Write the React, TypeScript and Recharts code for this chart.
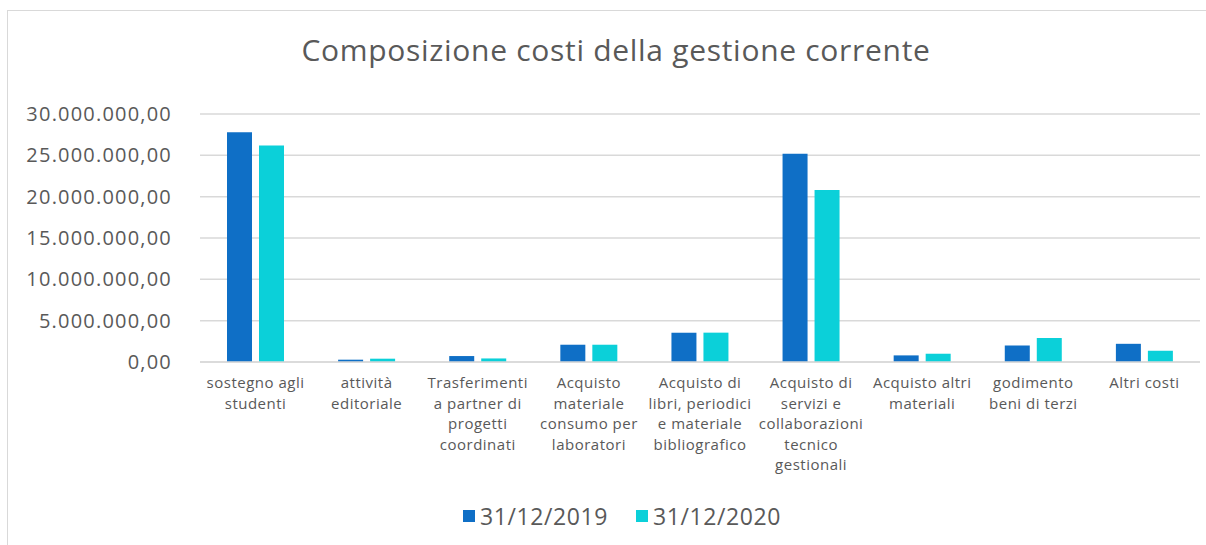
import { BarChart, Bar, XAxis, YAxis, CartesianGrid, Legend } from "recharts";

const categoryLines: string[][] = [
  ["sostegno agli", "studenti"],
  ["attività", "editoriale"],
  ["Trasferimenti", "a partner di", "progetti", "coordinati"],
  ["Acquisto", "materiale", "consumo per", "laboratori"],
  ["Acquisto di", "libri, periodici", "e materiale", "bibliografico"],
  ["Acquisto di", "servizi e", "collaborazioni", "tecnico", "gestionali"],
  ["Acquisto altri", "materiali"],
  ["godimento", "beni di terzi"],
  ["Altri costi"],
];
const categories = categoryLines.map((l) => l.join(" "));

const costi2019 = [27800000, 280000, 720000, 2090000, 3540000, 25200000, 800000, 2000000, 2200000];
const costi2020 = [26200000, 400000, 430000, 2090000, 3550000, 20800000, 1000000, 2900000, 1360000];

const yTicks = [0, 5000000, 10000000, 15000000, 20000000, 25000000, 30000000];

const seriesNames = ["31/12/2019", "31/12/2020"];
const seriesColors = ["#0F6FC6", "#0BD0D9"];

const data = categories.map((name, i) => ({
  name,
  v2019: costi2019[i],
  v2020: costi2020[i],
}));

const FONT = "'Open Sans', sans-serif";
const TEXT = "#595959";

function formatIt(n: number) {
  const int = Math.round(n).toString().replace(/\B(?=(\d{3})+(?!\d))/g, ".");
  return int + ",00";
}

function CategoryTick(props: any) {
  const { x, y, payload } = props;
  const idx = categories.indexOf(payload.value);
  const lines = idx >= 0 ? categoryLines[idx] : [payload.value];
  return (
    <text x={x} y={y} textAnchor="middle" fill={TEXT} fontSize={15} fontFamily={FONT} letterSpacing={0.5}>
      {lines.map((line, i) => (
        <tspan key={i} x={x} y={y + 26 + i * 20.5}>
          {line}
        </tspan>
      ))}
    </text>
  );
}

function LegendContent() {
  return (
    <div
      style={{
        display: "flex",
        justifyContent: "center",
        alignItems: "center",
        height: 24,
        paddingLeft: 44,
        fontFamily: FONT,
      }}
    >
      {seriesNames.map((s, i) => (
        <div key={s} style={{ display: "flex", alignItems: "center", marginLeft: i ? 28 : 0 }}>
          <span style={{ width: 12, height: 12, background: seriesColors[i], display: "inline-block", marginRight: 5 }} />
          <span style={{ fontSize: 23, color: TEXT, letterSpacing: 0.6, lineHeight: "24px" }}>{s}</span>
        </div>
      ))}
    </div>
  );
}

export default function App() {
  return (
    <div
      style={{
        position: "absolute",
        left: 0,
        top: 0,
        width: 1206,
        height: 545,
        overflow: "hidden",
        background: "#fff",
      }}
    >
      <div
        style={{
          position: "absolute",
          left: 7,
          top: 10,
          width: 1199,
          height: 535,
          borderLeft: "1.5px solid #d9d9d9",
          borderTop: "1.5px solid #d9d9d9",
        }}
      />
      <div
        style={{
          position: "absolute",
          left: 0,
          top: 30,
          width: 1232,
          textAlign: "center",
          fontFamily: FONT,
          fontSize: 30,
          letterSpacing: 0.7,
          color: TEXT,
          lineHeight: "40px",
        }}
      >
        Composizione costi della gestione corrente
      </div>
      <div style={{ position: "absolute", left: 0, top: 0 }}>
        <BarChart
          width={1206}
          height={545}
          data={data}
          margin={{ top: 114, right: 6, left: 0, bottom: 0 }}
          barGap={7}
          barSize={25}
        >
          <CartesianGrid vertical={false} stroke="#d9d9d9" strokeWidth={1.5} />
          <XAxis
            dataKey="name"
            height={159}
            interval={0}
            tickLine={false}
            tickSize={0}
            tickMargin={0}
            axisLine={{ stroke: "#d9d9d9", strokeWidth: 1.5 }}
            tick={<CategoryTick />}
          />
          <YAxis
            width={200}
            domain={[0, 30000000]}
            ticks={yTicks}
            interval={0}
            axisLine={false}
            tickLine={false}
            tickSize={26}
            tickMargin={2}
            tickFormatter={formatIt}
            tick={{ fill: TEXT, fontSize: 20, fontFamily: FONT, letterSpacing: 1.2 }}
          />
          <Legend
            verticalAlign="bottom"
            height={24}
            wrapperStyle={{ bottom: 17, height: 24 }}
            content={<LegendContent />}
          />
          <Bar dataKey="v2019" name={seriesNames[0]} fill={seriesColors[0]} isAnimationActive={false} />
          <Bar dataKey="v2020" name={seriesNames[1]} fill={seriesColors[1]} isAnimationActive={false} />
        </BarChart>
      </div>
    </div>
  );
}
